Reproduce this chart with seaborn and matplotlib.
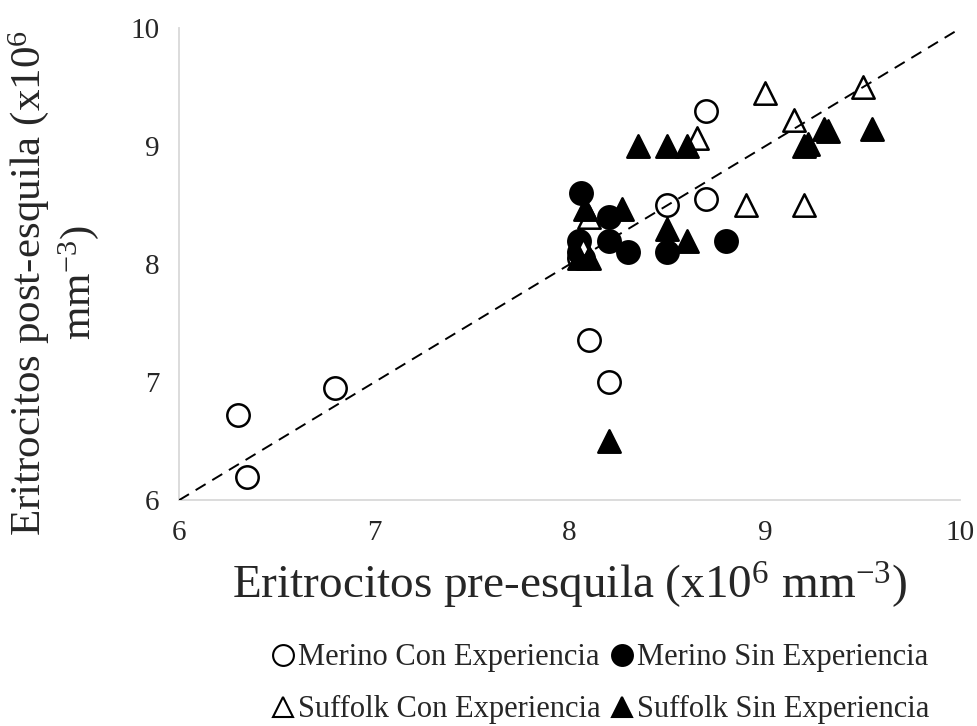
import matplotlib
matplotlib.use("Agg")
import matplotlib.pyplot as plt
import seaborn as sns
import pandas as pd

# pre-esquila (x) / post-esquila (y), x10^6 mm^-3
merino_con_x = [6.30, 6.35, 6.80, 8.10, 8.20, 8.50, 8.70, 8.70, 8.05]
merino_con_y = [6.72, 6.20, 6.95, 7.36, 7.00, 8.50, 8.55, 9.30, 8.05]
merino_sin_x = [8.06, 8.20, 8.20, 8.05, 8.05, 8.30, 8.50, 8.80, 8.07]
merino_sin_y = [8.60, 8.40, 8.20, 8.20, 8.10, 8.10, 8.10, 8.20, 8.05]
suffolk_con_x = [9.00, 9.50, 9.15, 8.65, 8.90, 9.20, 8.10, 8.07]
suffolk_con_y = [9.45, 9.50, 9.22, 9.07, 8.50, 8.50, 8.40, 8.12]
suffolk_sin_x = [8.20, 8.35, 8.50, 8.60, 9.20, 9.22, 9.30, 9.32, 9.55,
                 8.50, 8.60, 8.27, 8.08, 8.05, 8.10]
suffolk_sin_y = [6.50, 9.00, 9.00, 9.00, 9.00, 9.02, 9.15, 9.13, 9.15,
                 8.30, 8.20, 8.47, 8.47, 8.05, 8.05]
diag = [6, 10]

groups = [
    ("Merino Con Experiencia", merino_con_x, merino_con_y, "o", "white"),
    ("Merino Sin Experiencia", merino_sin_x, merino_sin_y, "o", "black"),
    ("Suffolk Con Experiencia", suffolk_con_x, suffolk_con_y, "^", "white"),
    ("Suffolk Sin Experiencia", suffolk_sin_x, suffolk_sin_y, "^", "black"),
]

sns.set_style("white")
plt.rcParams["font.family"] = ["Liberation Serif", "DejaVu Serif"]
plt.rcParams["mathtext.default"] = "regular"

fig = plt.figure(figsize=(9.78, 7.26), dpi=100)
ax = fig.add_axes([0.183, 0.311, 0.799, 0.650])

handles = {}
for name, xs, ys, mk, fc in groups:
    df = pd.DataFrame({"x": xs, "y": ys})
    sns.scatterplot(data=df, x="x", y="y", marker=mk, s=260,
                    facecolor=fc, edgecolor="black", linewidth=1.8, ax=ax)
    handles[name] = plt.Line2D([], [], linestyle="none", marker=mk,
                               markersize=15, markerfacecolor=fc,
                               markeredgecolor="black", markeredgewidth=1.5)

ax.plot(diag, diag, linestyle=(0, (6, 4)), color="black", linewidth=1.4, zorder=5)

ax.set_xlim(6, 10)
ax.set_ylim(6, 10)
ax.set_xticks([6, 7, 8, 9, 10])
ax.set_yticks([6, 7, 8, 9, 10])
ax.tick_params(labelsize=21, length=0, pad=14)
for s in ["top", "right"]:
    ax.spines[s].set_visible(False)
for s in ["left", "bottom"]:
    ax.spines[s].set_color("#d9d9d9")
    ax.spines[s].set_linewidth(1.3)

ax.set_xlabel("Eritrocitos pre-esquila (x10$^{6}$ mm$^{-3}$)", fontsize=34, labelpad=10)
ax.set_ylabel("Eritrocitos post-esquila (x10$^{6}$\nmm$^{-3}$)", fontsize=31,
              linespacing=1.15)
ax.yaxis.set_label_coords(-0.10, 0.46)

order = ["Merino Con Experiencia", "Suffolk Con Experiencia",
         "Merino Sin Experiencia", "Suffolk Sin Experiencia"]
fig.legend([handles[k] for k in order], order, loc="center",
           bbox_to_anchor=(0.612, 0.058), ncol=2, frameon=False, fontsize=22,
           handletextpad=0.0, columnspacing=0.2, handlelength=1.0,
           labelspacing=0.75)

fig.savefig("out.png", dpi=100)
